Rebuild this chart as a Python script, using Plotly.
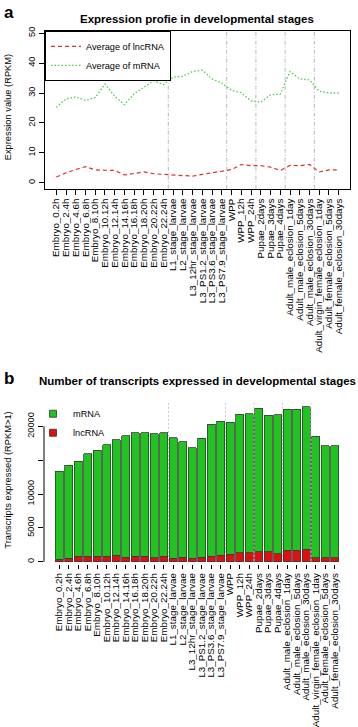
import plotly.graph_objects as go

W, H = 358, 727

stages = [
    "Embryo_0.2h", "Embryo_2.4h", "Embryo_4.6h", "Embryo_6.8h", "Embryo_8.10h",
    "Embryo_10.12h", "Embryo_12.14h", "Embryo_14.16h", "Embryo_16.18h", "Embryo_18.20h",
    "Embryo_20.22h", "Embryo_22.24h", "L1_stage_larvae", "L2_stage_larvae",
    "L3_12hr_stage_larvae", "L3_PS1.2_stage_larvae", "L3_PS3.6_stage_larvae",
    "L3_PS7.9_stage_larvae", "WPP", "WPP_12h", "WPP_24h", "Pupae_2days", "Pupae_3days",
    "Pupae_4days", "Adult_male_eclosion_1day", "Adult_male_eclosion_5days",
    "Adult_male_eclosion_30days", "Adult_virgin_female_eclosion_1day",
    "Adult_female_eclosion_5days", "Adult_female_eclosion_30days",
]

# panel a: average expression (RPKM)
avg_lncrna = [1.9, 3.3, 4.4, 5.4, 4.3, 4.3, 4.1, 2.6, 3.1, 3.6, 3.0, 2.8, 2.6, 2.6, 2.2,
              2.8, 3.3, 3.7, 4.4, 6.1, 5.7, 5.7, 5.2, 4.1, 5.8, 5.7, 6.1, 3.6, 4.3, 4.3]
avg_mrna = [25.2, 28.0, 28.7, 27.5, 28.5, 33.0, 28.9, 26.1, 29.8, 31.9, 34.1, 32.8, 35.3,
            35.6, 37.2, 37.6, 34.7, 33.3, 30.9, 30.1, 27.4, 26.9, 29.4, 29.6, 37.2, 34.7,
            34.4, 30.6, 30.0, 30.0]

# panel b: number of expressed transcripts (stacked)
n_lncrna = [340, 540, 780, 780, 780, 780, 930, 640, 780, 780, 590, 780, 540, 640, 540,
            640, 830, 980, 1130, 1320, 1320, 1470, 1470, 1180, 1720, 1720, 1860, 590, 590, 590]
n_mrna = [13000, 13730, 14070, 15160, 15690, 16530, 17070, 17990, 18290, 18290, 18290,
          18250, 17750, 17110, 16280, 17600, 19460, 19760, 19460, 20450, 20550, 21180,
          20150, 20540, 20840, 20840, 21040, 17940, 16570, 16570]

group_breaks = [11.5, 17.5, 20.5, 23.5, 26.5]

a_ticks = [0, 10, 20, 30, 40, 50]
b_ticks = [0, 5000, 10000, 15000, 20000]
b_ticktext = ["0", "5000", "10000", "", "20000"]

FONT = "Liberation Sans, Arial, sans-serif"
GREEN_LINE = "#4ccc4c"
RED_LINE = "#e03030"
GREEN_BAR = "#1fc41f"
RED_BAR = "#e01010"


def px_x(p):
    return p / W


def px_y(p):
    return 1 - p / H


fig = go.Figure()

fig.add_trace(go.Scatter(
    x=stages, y=avg_lncrna, mode="lines", name="Average of lncRNA",
    line=dict(color=RED_LINE, width=1.2, dash="4px,3px"),
    xaxis="x", yaxis="y", legend="legend",
))
fig.add_trace(go.Scatter(
    x=stages, y=avg_mrna, mode="lines", name="Average of mRNA",
    line=dict(color=GREEN_LINE, width=1.3, dash="1.5px,2px"),
    xaxis="x", yaxis="y", legend="legend",
))

fig.add_trace(go.Bar(
    x=stages, y=n_lncrna, name="lncRNA",
    marker=dict(color=RED_BAR, line=dict(color="#3a3a3a", width=0.8)),
    xaxis="x2", yaxis="y2", showlegend=False,
))
fig.add_trace(go.Bar(
    x=stages, y=n_mrna, name="mRNA",
    marker=dict(color=GREEN_BAR, line=dict(color="#3a3a3a", width=0.8)),
    xaxis="x2", yaxis="y2", showlegend=False,
))
# legend entries for panel b
fig.add_trace(go.Scatter(
    x=[None], y=[None], mode="markers", name="mRNA",
    marker=dict(symbol="square", size=7, color=GREEN_BAR, line=dict(color="#333", width=0.8)),
    xaxis="x2", yaxis="y2", legend="legend2",
))
fig.add_trace(go.Scatter(
    x=[None], y=[None], mode="markers", name="lncRNA",
    marker=dict(symbol="square", size=7, color=RED_BAR, line=dict(color="#333", width=0.8)),
    xaxis="x2", yaxis="y2", legend="legend2",
))

shapes = []
for b in group_breaks:
    shapes.append(dict(type="line", xref="x", yref="y domain", x0=b, x1=b, y0=0, y1=1,
                       line=dict(color="#b8b8b8", width=1, dash="4px,2px,1px,2px"),
                       layer="below"))
    shapes.append(dict(type="line", xref="x2", yref="y2 domain", x0=b, x1=b, y0=0.02, y1=0.98,
                       line=dict(color="#c8c8c8", width=1, dash="2px,2px"), layer="above"))
# panel b y axis line spans first to last tick
shapes.append(dict(type="line", xref="paper", yref="y2", x0=px_x(44), x1=px_x(44),
                   y0=b_ticks[0], y1=b_ticks[-1], line=dict(color="black", width=1)))

tickfont = dict(size=9.2, color="black", family=FONT)
xtickfont = dict(size=9.8, color="black", family=FONT)

fig.update_layout(
    width=W, height=H, autosize=False,
    margin=dict(l=0, r=0, t=0, b=0),
    paper_bgcolor="white", plot_bgcolor="white",
    font=dict(family=FONT, color="black", size=9.2),
    barmode="stack", bargap=0.17,
    xaxis=dict(
        domain=[px_x(45), px_x(350)], anchor="y", type="category",
        range=[-1.16, 30.16], tickmode="array", tickvals=stages, ticktext=stages,
        tickangle=-90, ticks="outside", ticklen=5,
        tickcolor="black", tickfont=xtickfont, showgrid=False, zeroline=False,
        showline=True, mirror=True, linecolor="black", linewidth=1,
    ),
    yaxis=dict(
        domain=[px_y(186), px_y(27)], anchor="x", range=[-2.0, 50.8],
        tickvals=a_ticks, tickangle=-90, ticks="outside", ticklen=5, tickcolor="black",
        tickfont=tickfont, showgrid=False, zeroline=False,
        showline=True, mirror=True, linecolor="black", linewidth=1,
    ),
    xaxis2=dict(
        domain=[px_x(44), px_x(350)], anchor="y2", type="category",
        range=[-1.61, 30.61], tickmode="array", tickvals=stages, ticktext=stages,
        tickangle=-90, ticks="outside", ticklen=4,
        tickcolor="black", tickfont=xtickfont, showgrid=False, zeroline=False,
        showline=False,
    ),
    yaxis2=dict(
        domain=[px_y(564), px_y(398)], anchor="x2", range=[-350, 24000],
        tickvals=b_ticks, ticktext=b_ticktext, tickangle=-90, ticks="outside", ticklen=5,
        tickcolor="black", tickfont=tickfont, showgrid=False, zeroline=False,
        showline=False,
    ),
    legend=dict(
        x=px_x(45), y=px_y(27), xanchor="left", yanchor="top",
        bordercolor="black", borderwidth=1, bgcolor="white",
        font=dict(size=9.2, family=FONT, color="black"), itemwidth=30,
        traceorder="normal", tracegroupgap=0,
    ),
    legend2=dict(
        x=px_x(33), y=px_y(398), xanchor="left", yanchor="top",
        bgcolor="rgba(0,0,0,0)", borderwidth=0, traceorder="normal",
        font=dict(size=9.2, family=FONT, color="black"), itemwidth=30,
    ),
    shapes=shapes,
    annotations=[
        dict(text="<b>a</b>", x=px_x(2), y=px_y(9), xref="paper", yref="paper",
             xanchor="left", yanchor="middle", showarrow=False, font=dict(size=17)),
        dict(text="<b>Expression profie in developmental stages</b>", x=px_x(197), y=px_y(15),
             xref="paper", yref="paper", xanchor="center", yanchor="middle",
             showarrow=False, font=dict(size=11.5)),
        dict(text="Expression value (RPKM)", x=px_x(8), y=px_y(104), xref="paper",
             yref="paper", xanchor="center", yanchor="middle", textangle=-90,
             showarrow=False, font=dict(size=9.3)),
        dict(text="<b>b</b>", x=px_x(2), y=px_y(377), xref="paper", yref="paper",
             xanchor="left", yanchor="middle", showarrow=False, font=dict(size=17)),
        dict(text="<b>Number of transcripts expressed in developmental stages</b>",
             x=px_x(197), y=px_y(380), xref="paper", yref="paper", xanchor="center",
             yanchor="middle", showarrow=False, font=dict(size=11.5)),
        dict(text="Transcripts expressed (RPKM>1)", x=px_x(8), y=px_y(480), xref="paper",
             yref="paper", xanchor="center", yanchor="middle", textangle=-90,
             showarrow=False, font=dict(size=9.3)),
    ],
)

fig.write_html("out.html", config={"displayModeBar": False},
               post_script="document.body.style.margin='0';")
